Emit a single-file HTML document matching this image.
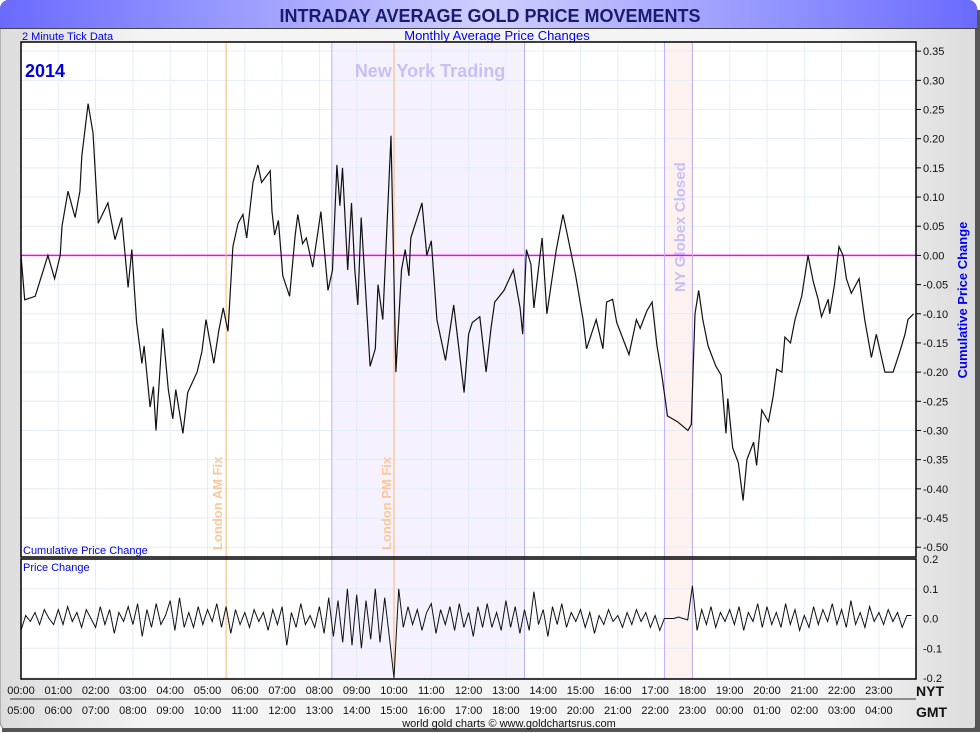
<!DOCTYPE html>
<html><head><meta charset="utf-8"><style>
body{margin:0;width:980px;height:733px;overflow:hidden;background:#fff;font-family:"Liberation Sans",sans-serif}
svg{display:block}
</style></head><body>
<svg id="chart" width="980" height="733" xmlns="http://www.w3.org/2000/svg">
<defs>
<linearGradient id="tb" x1="0" x2="1" y1="0" y2="0"><stop offset="0" stop-color="#6a6aff"/><stop offset="0.5" stop-color="#cfcfff"/><stop offset="1" stop-color="#6a6aff"/></linearGradient>
<linearGradient id="bg" x1="0" x2="1" y1="0" y2="0"><stop offset="0" stop-color="#dcdcdc"/><stop offset="0.15" stop-color="#f4f4f4"/><stop offset="0.85" stop-color="#f4f4f4"/><stop offset="1" stop-color="#dcdcdc"/></linearGradient>
</defs>
<rect x="0" y="0" width="977" height="731" rx="10" fill="url(#bg)" stroke="#888"/>
<rect x="2" y="728" width="975" height="4" fill="#555"/>
<rect x="975" y="10" width="5" height="722" fill="#555"/>
<path d="M0,28 V10 Q0,0 10,0 H967 Q977,0 977,10 V28 Z" fill="url(#tb)"/>
<line x1="0" y1="28.5" x2="977" y2="28.5" stroke="#444"/>
<text x="490" y="22" text-anchor="middle" font-size="18" font-weight="bold" fill="#1a1a6e">INTRADAY AVERAGE GOLD PRICE MOVEMENTS</text>
<text x="22" y="40" font-size="11" fill="#0000ee">2 Minute Tick Data</text>
<text x="497" y="40" text-anchor="middle" font-size="13" fill="#0000ee">Monthly Average Price Changes</text>
<rect x="21" y="42" width="895" height="515" fill="#fff"/>
<rect x="21" y="559" width="895" height="120" fill="#fff"/>
<g id="bands"></g>
<g id="grid"></g>
<rect id="zeroline" x="21" y="255" width="895" height="1.5" fill="#ff00ff"/>
<g id="marks"></g>
<rect x="21" y="42" width="895" height="515" fill="none" stroke="#000" stroke-width="1.5"/>
<rect x="21" y="559" width="895" height="120" fill="none" stroke="#000" stroke-width="1.5"/>
<text x="25" y="77" font-size="18" font-weight="bold" fill="#0000dd">2014</text>
<text x="430" y="77" text-anchor="middle" font-size="18" font-weight="bold" fill="#c8c0f4">New York Trading</text>
<text transform="translate(222,550) rotate(-90)" font-size="13" font-weight="bold" fill="#f8c89a">London AM Fix</text>
<text transform="translate(391,550) rotate(-90)" font-size="13" font-weight="bold" fill="#f8c89a">London PM Fix</text>
<text transform="translate(685,292) rotate(-90)" font-size="15" font-weight="bold" fill="#c8c0f4">NY Globex Closed</text>
<text x="23" y="554" font-size="11" fill="#0000ee">Cumulative Price Change</text>
<text x="23" y="571" font-size="11" fill="#0000ee">Price Change</text>
<text transform="translate(967,300) rotate(-90)" text-anchor="middle" font-size="13" font-weight="bold" fill="#0000ee">Cumulative Price Change</text>
<line x1="10" y1="699" x2="916" y2="699" stroke="#333"/>
<text x="916" y="696" font-size="14" font-weight="bold" fill="#111">NYT</text>
<text x="916" y="717" font-size="14" font-weight="bold" fill="#111">GMT</text>
<text x="509" y="727" text-anchor="middle" font-size="11" fill="#111">world gold charts © www.goldchartsrus.com</text>
</svg>
<script>
const yTicks = [0.35,0.30,0.25,0.20,0.15,0.10,0.05,0.00,-0.05,-0.10,-0.15,-0.20,-0.25,-0.30,-0.35,-0.40,-0.45,-0.50];
const y2Ticks = [0.2,0.1,0.0,-0.1,-0.2];
const nytLabels = ["00:00","01:00","02:00","03:00","04:00","05:00","06:00","07:00","08:00","09:00","10:00","11:00","12:00","13:00","14:00","15:00","16:00","17:00","18:00","19:00","20:00","21:00","22:00","23:00"];
const gmtLabels = ["05:00","06:00","07:00","08:00","09:00","10:00","11:00","12:00","13:00","14:00","15:00","16:00","17:00","18:00","19:00","20:00","21:00","22:00","23:00","00:00","01:00","02:00","03:00","04:00"];
const cumHours = [0,0.1,0.38,0.72,0.9,1.05,1.1,1.26,1.45,1.58,1.63,1.8,1.93,2.07,2.33,2.52,2.7,2.87,2.97,3.1,3.24,3.3,3.46,3.55,3.62,3.8,3.95,4.07,4.15,4.34,4.47,4.72,4.85,4.96,5.17,5.3,5.42,5.55,5.68,5.82,5.95,6.05,6.22,6.35,6.45,6.68,6.73,6.8,6.9,7.02,7.2,7.35,7.42,7.55,7.65,7.82,8.04,8.23,8.35,8.47,8.55,8.62,8.76,8.86,8.95,9.03,9.12,9.36,9.5,9.57,9.7,9.92,10.05,10.2,10.3,10.4,10.45,10.75,10.88,11,11.15,11.38,11.6,11.88,12,12.1,12.3,12.47,12.6,12.7,12.95,13.2,13.38,13.45,13.55,13.67,13.75,13.97,14.1,14.35,14.53,14.65,14.87,15.07,15.16,15.42,15.6,15.7,15.86,15.97,16.3,16.5,16.6,16.78,16.92,17.05,17.18,17.28,17.33,17.6,17.88,17.97,18.07,18.17,18.28,18.42,18.63,18.77,18.9,18.95,19.08,19.23,19.36,19.46,19.64,19.72,19.86,20.04,20.17,20.26,20.4,20.48,20.63,20.75,20.93,21.1,21.24,21.37,21.46,21.64,21.68,21.81,21.93,22.04,22.13,22.26,22.47,22.62,22.8,22.93,23.16,23.38,23.56,23.7,23.78,23.93];
const cumValues = [0,-0.076,-0.07,0,-0.04,0,0.05,0.11,0.065,0.11,0.17,0.26,0.21,0.055,0.09,0.027,0.065,-0.055,0.01,-0.115,-0.185,-0.155,-0.26,-0.225,-0.3,-0.125,-0.23,-0.28,-0.23,-0.305,-0.235,-0.2,-0.165,-0.11,-0.185,-0.13,-0.09,-0.13,0.015,0.055,0.07,0.03,0.125,0.155,0.125,0.145,0.075,0.035,0.06,-0.035,-0.07,0.035,0.07,0.02,0.03,-0.02,0.075,-0.06,-0.025,0.155,0.085,0.15,-0.025,0.09,-0.025,-0.085,0.065,-0.19,-0.16,-0.05,-0.11,0.205,-0.2,-0.025,0.01,-0.035,0.03,0.09,0,0.025,-0.11,-0.18,-0.085,-0.235,-0.135,-0.115,-0.105,-0.2,-0.125,-0.08,-0.06,-0.025,-0.09,-0.135,0.01,-0.015,-0.09,0.03,-0.1,0.01,0.07,0.035,-0.035,-0.11,-0.16,-0.11,-0.16,-0.08,-0.075,-0.115,-0.17,-0.11,-0.125,-0.095,-0.08,-0.155,-0.205,-0.25,-0.275,-0.285,-0.3,-0.29,-0.1,-0.06,-0.11,-0.155,-0.19,-0.205,-0.305,-0.245,-0.33,-0.355,-0.42,-0.35,-0.32,-0.36,-0.265,-0.285,-0.24,-0.195,-0.2,-0.14,-0.15,-0.11,-0.07,0,-0.045,-0.075,-0.105,-0.075,-0.1,-0.05,0.015,0,-0.04,-0.065,-0.04,-0.11,-0.175,-0.135,-0.2,-0.2,-0.165,-0.135,-0.11,-0.1];
const changeValues = [
-0.04,0.01,-0.01,0.02,-0.02,0.03,0.0,-0.02,
0.03,-0.02,0.04,-0.01,0.02,-0.03,0.03,0.0,
-0.03,0.04,-0.02,0.03,-0.05,0.02,-0.01,0.04,
-0.02,0.05,-0.06,0.03,-0.03,0.05,-0.02,0.01,
0.06,-0.04,0.07,-0.03,0.02,-0.03,0.04,-0.02,
0.03,-0.01,0.05,-0.03,0.04,-0.05,0.03,-0.02,
0.02,-0.03,0.03,-0.01,0.02,-0.04,0.03,-0.02,
0.04,-0.09,0.02,-0.03,0.05,-0.02,0.01,-0.03,
0.04,-0.05,0.07,-0.06,0.06,-0.08,0.10,-0.09,
0.08,-0.10,0.06,-0.07,0.10,-0.08,0.07,-0.06,
-0.20,0.10,-0.03,0.04,-0.02,0.03,-0.04,0.02,
0.05,-0.05,0.03,-0.02,0.04,-0.04,0.05,-0.03,
0.02,-0.06,0.04,-0.03,0.05,-0.03,0.02,-0.04,
0.06,-0.03,0.04,-0.05,0.03,-0.04,0.09,-0.02,
0.03,-0.06,0.04,-0.02,0.05,-0.03,0.02,-0.01,
0.03,-0.03,0.02,-0.05,0.01,-0.02,0.03,-0.01,
0.01,-0.03,0.02,-0.02,0.03,-0.01,0.02,-0.03,
0.01,-0.04,0.0,0.0,0.0,0.005,0.0,-0.005,
0.11,-0.04,0.03,-0.02,0.04,-0.03,0.02,-0.01,
0.03,-0.02,0.04,-0.04,0.02,-0.01,0.05,-0.03,
0.04,-0.02,0.02,-0.03,0.05,-0.02,0.03,-0.04,
0.01,-0.03,0.04,-0.02,0.03,-0.01,0.05,-0.02,
0.03,-0.03,0.06,-0.02,0.02,-0.03,0.04,-0.01,
0.02,-0.02,0.03,-0.01,0.02,-0.03,0.01,0.01];
const NS="http://www.w3.org/2000/svg";
const X0=21,HW=37.3;
function xS(h){return X0+h*HW;}
function yS(v){return 255.4-v*583.6;}
function y2S(v){return 618.5-v*297.5;}
function mk(tag,attrs,parent){const e=document.createElementNS(NS,tag);for(const k in attrs)e.setAttribute(k,attrs[k]);document.getElementById(parent).appendChild(e);return e;}
let e;
document.getElementById('zeroline').setAttribute('y',(yS(0)-0.75).toFixed(2));
e=mk('rect',{x:xS(8+20/60),y:42,width:xS(13.5)-xS(8+20/60),height:637,fill:'#f5f2fd'},'bands');


e=mk('rect',{x:xS(17.25),y:42,width:xS(18)-xS(17.25),height:637,fill:'#fdf2f0'},'bands');


for(let i=1;i<24;i++){
 e=mk('line',{x1:xS(i),x2:xS(i),y1:42,y2:679,stroke:'#e2eef8'},'grid');
 
 
}
yTicks.forEach(t=>{
 if(t!==0){
 e=mk('line',{x1:21,x2:916,y1:yS(t),y2:yS(t),stroke:'#e2eef8'},'grid');
 
 
 }
 e=mk('line',{x1:916,x2:921,y1:yS(t),y2:yS(t),stroke:'#000'},'grid');
 
 
 e=mk('text',{x:923,y:yS(t)+4,'font-size':11,fill:'#111'},'grid');
 e.textContent=(t<0?'-':'')+Math.abs(t).toFixed(2);
 
 
});
y2Ticks.forEach(t=>{
 e=mk('line',{x1:21,x2:916,y1:y2S(t),y2:y2S(t),stroke:'#e2eef8'},'grid');
 
 
 e=mk('text',{x:923,y:y2S(t)+4,'font-size':11,fill:'#111'},'grid');
 e.textContent=t.toFixed(1);
 
 
});
nytLabels.forEach((l,i)=>{
 e=mk('text',{x:xS(i),y:694,'font-size':11,'text-anchor':'middle',fill:'#111'},'grid');
 e.textContent=l;
 
 
});
gmtLabels.forEach((l,i)=>{
 e=mk('text',{x:xS(i),y:714,'font-size':11,'text-anchor':'middle',fill:'#111'},'grid');
 e.textContent=l;
 
 
});
[[5.5,'london-am-fix-line'],[10,'london-pm-fix-line']].forEach(([h,n])=>{
 e=mk('line',{x1:xS(h),x2:xS(h),y1:42,y2:679,stroke:'#f6b878'},'marks');
 
 
});
[8+20/60,13.5,17.25,18].forEach(h=>{
 e=mk('line',{x1:xS(h),x2:xS(h),y1:42,y2:679,stroke:'#b8b0f0'},'marks');
 
 
});
let d=cumHours.map((h,i)=>(i?'L':'M')+xS(h).toFixed(1)+','+yS(cumValues[i]).toFixed(1)).join('');
e=mk('path',{d:d,fill:'none',stroke:'#111','stroke-width':1.2},'marks');


const step=24/changeValues.length;
d=changeValues.map((v,i)=>(i?'L':'M')+xS(i*step).toFixed(1)+','+y2S(v).toFixed(1)).join('');
e=mk('path',{d:d,fill:'none',stroke:'#111','stroke-width':1},'marks');


</script>
</body></html>
